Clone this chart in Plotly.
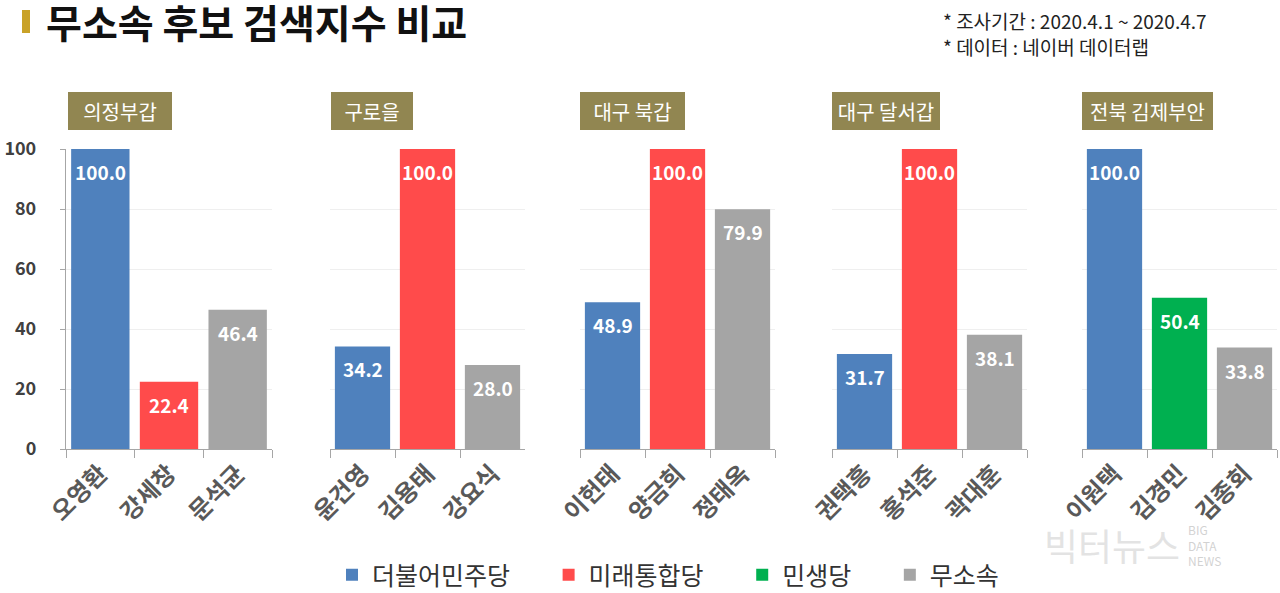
import plotly.graph_objects as go
from plotly.subplots import make_subplots

# ---- data ----
districts = ["의정부갑", "구로을", "대구 북갑", "대구 달서갑", "전북 김제부안"]
candidates = [
    ["오영환", "강세창", "문석균"],
    ["윤건영", "김용태", "강요식"],
    ["이헌태", "양금희", "정태옥"],
    ["권택흥", "홍석준", "곽대훈"],
    ["이원택", "김경민", "김종회"],
]
values = [
    [100.0, 22.4, 46.4],
    [34.2, 100.0, 28.0],
    [48.9, 100.0, 79.9],
    [31.7, 100.0, 38.1],
    [100.0, 50.4, 33.8],
]
parties = [
    ["더불어민주당", "미래통합당", "무소속"],
    ["더불어민주당", "미래통합당", "무소속"],
    ["더불어민주당", "미래통합당", "무소속"],
    ["더불어민주당", "미래통합당", "무소속"],
    ["더불어민주당", "민생당", "무소속"],
]
party_names = ["더불어민주당", "미래통합당", "민생당", "무소속"]
party_colors = ["#4F81BD", "#FF4B4B", "#00B050", "#A5A5A5"]
y_ticks = [0, 20, 40, 60, 80, 100]
title_text = "무소속 후보 검색지수 비교"
note_lines = ["* 조사기간 : 2020.4.1 ~ 2020.4.7", "* 데이터 : 네이버 데이터랩"]
watermark_main = "빅터뉴스"
watermark_sub = "BIG<br>DATA<br>NEWS"

FONT = "Noto Sans CJK KR"
W, H = 1280, 593
ML, MR, MT, MB = 65, 3, 149, 144
PW = W - ML - MR
PH = H - MT - MB

def px_x(p):
    return (p - ML) / PW

def px_y(p):
    return (H - MB - p) / PH

panel_px = [(66, 272), (330, 525), (580, 775), (832, 1027), (1082, 1277)]
box_px = [(68, 172), (331, 413), (580, 685), (832, 940), (1082, 1213)]
PAD = "\u00a0" * 6

fig = make_subplots(rows=1, cols=5)

seen = set()
for i in range(5):
    for pi, pname in enumerate(party_names):
        xs = [c for c, p in zip(candidates[i], parties[i]) if p == pname]
        ys = [v for v, p in zip(values[i], parties[i]) if p == pname]
        if not xs:
            continue
        fig.add_trace(go.Bar(
            x=xs, y=ys, name=pname + (PAD if pi < len(party_names) - 1 else ""),
            marker_color=party_colors[pi],
            marker_line_width=0, legendgroup=pname, legendrank=pi + 1,
            showlegend=pname not in seen, hoverinfo="x+y",
        ), row=1, col=i + 1)
        seen.add(pname)
    # value labels
    for c, v in zip(candidates[i], values[i]):
        fig.add_annotation(
            x=c, y=v, xref=f"x{i+1}" if i else "x", yref=f"y{i+1}" if i else "y",
            text=f"<b>{v:.1f}</b>", showarrow=False, yanchor="top", yshift=-7,
            font=dict(family=FONT, size=19, color="white"),
        )
    # district label boxes
    bx0, bx1 = box_px[i]
    fig.add_annotation(
        x=px_x(bx0), y=px_y(111), xref="paper", yref="paper",
        xanchor="left", yanchor="middle", showarrow=False,
        text=districts[i], width=bx1 - bx0 - 8, height=30, align="center", valign="middle",
        bgcolor="#918651", borderpad=4, borderwidth=0,
        font=dict(family=FONT, size=20, color="white"),
    )

for i in range(5):
    x0, x1 = panel_px[i]
    xa = "xaxis" if i == 0 else f"xaxis{i+1}"
    ya = "yaxis" if i == 0 else f"yaxis{i+1}"
    fig.layout[xa].update(
        domain=[px_x(x0), px_x(x1)], categoryorder="array", categoryarray=candidates[i],
        tickangle=-45, showline=True, linecolor="#A6A6A6", linewidth=1.3,
        ticks="outside", tickson="boundaries", ticklen=8, tickcolor="#A6A6A6",
        tickfont=dict(family=FONT, size=24, color="#595959", weight="bold"),
        showgrid=False, fixedrange=True, automargin=False,
    )
    fig.layout[ya].update(
        range=[0, 100], tickvals=y_ticks, showgrid=True, gridcolor="#EFEFEF",
        gridwidth=1, zeroline=False, fixedrange=True, automargin=False,
        showline=(i == 0), linecolor="#A6A6A6", linewidth=1.3,
        ticks="outside" if i == 0 else "", ticklen=5, tickcolor="#A6A6A6",
        showticklabels=(i == 0), ticklabelstandoff=20,
        tickfont=dict(family=FONT, size=18, color="#404040", weight="bold"),
    )

# title decoration
fig.add_shape(type="rect", xref="paper", yref="paper",
              x0=px_x(22), x1=px_x(30), y0=px_y(33), y1=px_y(10),
              fillcolor="#C9A227", line_width=0)
fig.add_annotation(x=px_x(44), y=px_y(21), xref="paper", yref="paper",
                   xanchor="left", yanchor="middle", showarrow=False,
                   text=f"<b>{title_text}</b>",
                   font=dict(family=FONT, size=39, color="#111111"))
for k, line in enumerate(note_lines):
    fig.add_annotation(x=px_x(941), y=px_y(20 + 27 * k), xref="paper", yref="paper",
                       xanchor="left", yanchor="middle", showarrow=False,
                       text=line, font=dict(family=FONT, size=19, color="#222222"))

# watermark
fig.add_annotation(x=px_x(1042), y=px_y(545), xref="paper", yref="paper",
                   xanchor="left", yanchor="middle", showarrow=False,
                   text=watermark_main, font=dict(family=FONT, size=37, color="rgba(200,200,200,0.5)"))
fig.add_annotation(x=px_x(1186), y=px_y(545), xref="paper", yref="paper",
                   xanchor="left", yanchor="middle", showarrow=False, align="left",
                   text=watermark_sub, font=dict(family=FONT, size=12, color="rgba(190,190,190,0.7)"))

fig.update_layout(
    width=W, height=H, barmode="overlay", bargap=0.15,
    margin=dict(l=ML, r=MR, t=MT, b=MB, autoexpand=False),
    paper_bgcolor="white", plot_bgcolor="white",
    font=dict(family=FONT),
    legend=dict(orientation="h", x=px_x(668), xanchor="center", y=px_y(575), yanchor="middle",
                font=dict(family=FONT, size=25, color="#333333"), itemsizing="constant",
                traceorder="normal", itemwidth=30),
)

fig.write_html("out.html", config={"displayModeBar": False},
               post_script="document.body.style.margin='0';")
